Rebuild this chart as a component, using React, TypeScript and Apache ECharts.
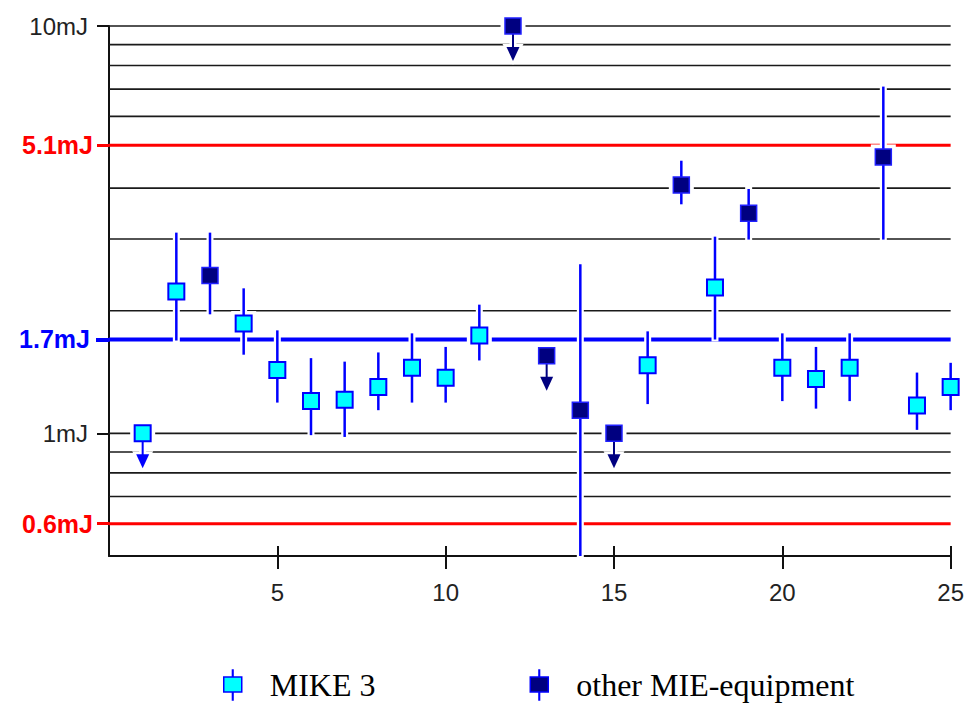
import React, { useEffect, useRef } from "react";
import * as echarts from "echarts";

// ---- data ----
const mikeTrial = [1, 2, 4, 5, 6, 7, 8, 9, 10, 11, 16, 18, 20, 21, 22, 24, 25];
const mikeValue = [1.0, 2.23, 1.86, 1.43, 1.2, 1.21, 1.3, 1.45, 1.37, 1.74, 1.47, 2.28, 1.45, 1.36, 1.45, 1.17, 1.3];
const mikeLow = [null, 1.69, 1.56, 1.19, 0.99, 0.98, 1.14, 1.19, 1.19, 1.51, 1.18, 1.7, 1.2, 1.15, 1.2, 1.02, 1.14];
const mikeHigh = [null, 3.11, 2.27, 1.79, 1.53, 1.5, 1.58, 1.76, 1.63, 2.07, 1.78, 3.04, 1.76, 1.63, 1.76, 1.41, 1.49];
const mikeUpperLimit = [true, false, false, false, false, false, false, false, false, false, false, false, false, false, false, false, false];

const otherTrial = [3, 12, 13, 14, 15, 17, 19, 23];
const otherValue = [2.44, 10, 1.55, 1.14, 1.0, 4.07, 3.47, 4.77];
const otherLow = [1.96, null, null, 0.5, null, 3.65, 2.99, 2.99];
const otherHigh = [3.11, null, null, 2.6, null, 4.67, 3.98, 7.1];
const otherUpperLimit = [false, true, true, false, true, false, false, false];

const gridValues = [0.7, 0.8, 0.9, 1, 2, 3, 4, 6, 7, 8, 9, 10];
const redLimits = [0.6, 5.1];
const blueLimits = [1.7];

const blackTickValues = [1, 10];
const tickValues = [0.6, 1, 1.7, 5.1, 10];
const tickLabels = ["0.6mJ", "1mJ", "1.7mJ", "5.1mJ", "10mJ"];

const trialRange = [0, 25];
const seriesNames = ["MIKE 3", "other MIE-equipment"];

function labelFor(v: number) {
  let best = 0;
  let bd = Infinity;
  tickValues.forEach((t, i) => {
    const d = Math.abs(Math.log(v) - Math.log(t));
    if (d < bd) {
      bd = d;
      best = i;
    }
  });
  return tickLabels[best];
}

function buildData(trial: number[], value: number[], low: (number | null)[], high: (number | null)[], up: boolean[]) {
  return trial.map((t, i) => [t, value[i], low[i] ?? 0, high[i] ?? 0, up[i] ? 1 : 0]);
}

function makeRender(fill: string, border: string, borderW: number, arrowColor: string) {
  return (params: any, api: any) => {
    const x = api.value(0);
    const v = api.value(1);
    const lo = api.value(2);
    const hi = api.value(3);
    const up = api.value(4);
    const c = api.coord([x, v]);
    const cx = c[0];
    const cy = c[1];
    const ch: any[] = [];
    const hasErr = lo > 0 && hi > 0;
    let yl = 0;
    let yh = 0;
    if (hasErr) {
      yl = api.coord([x, lo])[1];
      yh = api.coord([x, hi])[1];
      ch.push({ type: "rect", shape: { x: cx - 3.5, y: yh - 2, width: 7, height: yl - yh + 4 }, style: { fill: "#ffffff" }, z2: 1 });
    }
    const tri = [
      [cx - 6.5, cy + 21],
      [cx + 6.5, cy + 21],
      [cx, cy + 35],
    ];
    if (up) {
      ch.push({ type: "rect", shape: { x: cx - 3.5, y: cy, width: 7, height: 24 }, style: { fill: "#ffffff" }, z2: 1 });
      ch.push({ type: "polygon", shape: { points: [[cx - 10.5, cy + 18], [cx + 10.5, cy + 18], [cx, cy + 39]] }, style: { fill: "#ffffff" }, z2: 1 });
    }
    ch.push({ type: "rect", shape: { x: cx - 12.5, y: cy - 12.5, width: 25, height: 25 }, style: { fill: "#ffffff" }, z2: 1 });
    if (hasErr) {
      ch.push({ type: "line", shape: { x1: cx, y1: yh, x2: cx, y2: yl }, style: { stroke: "#0000ff", lineWidth: 2.5 }, z2: 2 });
    }
    if (up) {
      ch.push({ type: "line", shape: { x1: cx, y1: cy, x2: cx, y2: cy + 23 }, style: { stroke: arrowColor, lineWidth: 2 }, z2: 2 });
      ch.push({ type: "polygon", shape: { points: tri }, style: { fill: arrowColor }, z2: 2 });
    }
    ch.push({
      type: "rect",
      shape: { x: cx - 8, y: cy - 8, width: 16, height: 16 },
      style: { fill, stroke: border, lineWidth: borderW },
      z2: 3,
    });
    return { type: "group", children: ch };
  };
}

function renderHLine(color: string, width: number) {
  return (params: any, api: any) => {
    const v = api.value(0);
    const a = api.coord([trialRange[0], v]);
    const b = api.coord([trialRange[1], v]);
    return { type: "line", shape: { x1: a[0], y1: a[1], x2: b[0], y2: b[1] }, style: { stroke: color, lineWidth: width } };
  };
}

const legendIcon =
  "path://M0,7L18,7L18,22L0,22Z M8.7,0L9.3,0L9.3,7L8.7,7Z M8.7,22L9.3,22L9.3,30L8.7,30Z";

const baseFont = "Liberation Sans, Arial, sans-serif";

export default function App() {
  const ref = useRef<HTMLDivElement>(null);
  useEffect(() => {
    if (!ref.current) return;
    const chart = echarts.init(ref.current, null, { renderer: "svg" });
    const yBase = {
      type: "log",
      logBase: 10,
      min: 0.5,
      max: 10,
      position: "left",
      splitLine: { show: false },
      minorTick: { show: false },
    };
    const hLineSeries = (name: string, values: number[], color: string, width: number) => ({
      name,
      type: "custom",
      z: 1,
      silent: true,
      dimensions: ["mJ"],
      encode: { y: 0 },
      renderItem: renderHLine(color, width),
      data: values.map((v) => [v]),
    });
    const option: any = {
      animation: false,
      backgroundColor: "#fff",
      grid: { left: 109, right: 14, top: 26, bottom: 150, containLabel: false },
      legend: {
        left: 218,
        top: 664,
        itemWidth: 18,
        itemHeight: 30,
        itemGap: 154,
        selectedMode: false,
        textStyle: { fontFamily: "Liberation Serif, Times New Roman, serif", fontSize: 32, color: "#000", padding: [10, 0, 0, 23] },
        data: [
          { name: seriesNames[0], icon: legendIcon, itemStyle: { color: "#00ffff", borderColor: "#0000ff", borderWidth: 1.5 } },
          { name: seriesNames[1], icon: legendIcon, itemStyle: { color: "#000080", borderColor: "#0000ff", borderWidth: 1.5 } },
        ],
      },
      xAxis: [
        {
          type: "value",
          min: 0,
          max: 25,
          interval: 5,
          position: "bottom",
          axisLine: { onZero: false, lineStyle: { color: "#111", width: 2 } },
          axisTick: { show: true, inside: false, length: 13, lineStyle: { color: "#111", width: 2 } },
          axisLabel: { showMinLabel: false, margin: 24, fontSize: 24, color: "#222", fontFamily: baseFont },
          splitLine: { show: false },
        },
        {
          type: "value",
          min: 0,
          max: 25,
          interval: 5,
          position: "bottom",
          axisLine: { show: false, onZero: false },
          axisTick: { show: true, inside: true, length: 10, lineStyle: { color: "#111", width: 2 } },
          axisLabel: { show: false },
          splitLine: { show: false },
        },
      ],
      yAxis: [
        {
          ...yBase,
          axisLine: { show: true, onZero: false, lineStyle: { color: "#111", width: 2 } },
          axisTick: { show: true, length: 12, customValues: blackTickValues, lineStyle: { color: "#111", width: 2 } },
          axisLabel: { show: true, customValues: blackTickValues, margin: 21, fontSize: 24, color: "#222", fontFamily: baseFont, formatter: (v: number) => labelFor(v) },
        },
        {
          ...yBase,
          axisLine: { show: false, onZero: false },
          axisTick: { show: true, length: 12, customValues: redLimits, lineStyle: { color: "#ff0000", width: 3 } },
          axisLabel: { show: true, customValues: redLimits, margin: 16, fontSize: 25, fontWeight: "bold", color: "#ff0000", fontFamily: baseFont, formatter: (v: number) => labelFor(v) },
        },
        {
          ...yBase,
          axisLine: { show: false, onZero: false },
          axisTick: { show: true, length: 13, customValues: blueLimits, lineStyle: { color: "#0000ff", width: 4 } },
          axisLabel: { show: true, customValues: blueLimits, margin: 19, fontSize: 25, fontWeight: "bold", color: "#0000ff", fontFamily: baseFont, formatter: (v: number) => labelFor(v) },
        },
      ],
      series: [
        hLineSeries("gridlines", gridValues, "#1a1a1a", 1.6),
        hLineSeries("red limits", redLimits, "#ff0000", 3),
        hLineSeries("blue limit", blueLimits, "#0000ff", 4),
        {
          name: seriesNames[0],
          type: "custom",
          z: 10,
          dimensions: ["trial", "mJ", "low", "high", "upperLimit"],
          encode: { x: 0, y: 1 },
          itemStyle: { color: "#00ffff", borderColor: "#0000ff" },
          renderItem: makeRender("#00ffff", "#0000ff", 2, "#0000ff"),
          data: buildData(mikeTrial, mikeValue, mikeLow, mikeHigh, mikeUpperLimit),
        },
        {
          name: seriesNames[1],
          type: "custom",
          z: 10,
          dimensions: ["trial", "mJ", "low", "high", "upperLimit"],
          encode: { x: 0, y: 1 },
          itemStyle: { color: "#000080", borderColor: "#0000ff" },
          renderItem: makeRender("#000080", "#2020ff", 1.5, "#000080"),
          data: buildData(otherTrial, otherValue, otherLow, otherHigh, otherUpperLimit),
        },
      ],
    };
    chart.setOption(option);
    return () => chart.dispose();
  }, []);
  return <div ref={ref} style={{ position: "fixed", left: 0, top: 0, width: 967, height: 706, background: "#fff" }} />;
}
